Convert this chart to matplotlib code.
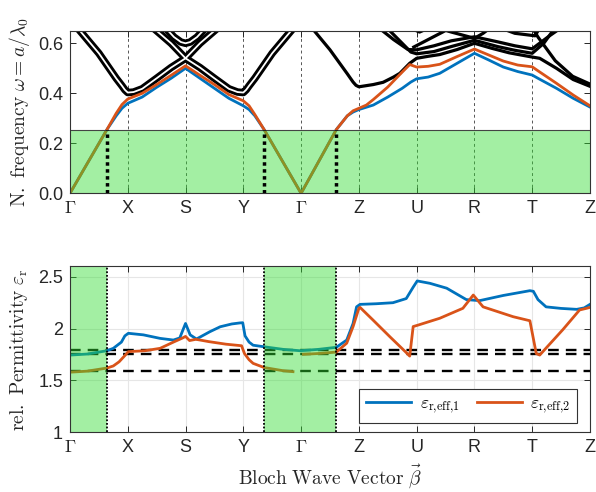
import numpy as np
import matplotlib
matplotlib.use("Agg")
import matplotlib.pyplot as plt

plt.rcParams['mathtext.fontset'] = 'cm'
plt.rcParams['font.family'] = ['Liberation Sans', 'DejaVu Sans']

# ---------------- data ----------------
tick_pos = [0, 1, 2, 3, 4, 5, 6, 7, 8, 9]
tick_labels = [r"$\Gamma$", "X", "S", "Y", r"$\Gamma$", "Z", "U", "R", "T", "Z"]

# lowest two bands (top panel)
band1_x = [0, 0.64, 0.8, 0.9, 1.0, 1.25, 1.5, 1.75, 2.0, 2.25, 2.5, 2.75, 3.0, 3.1, 3.2, 3.36, 4.0,
           4.61, 4.8, 4.9, 5.0, 5.25, 5.5, 5.75, 5.9, 6.0, 6.2, 6.4, 6.7, 7.0, 7.25, 7.5, 7.75, 8.0, 8.1,
           8.42, 8.71, 9.0]
band1_y = [0, 0.255, 0.31, 0.34, 0.36, 0.385, 0.424, 0.46, 0.50, 0.46, 0.42, 0.38, 0.35, 0.335, 0.31, 0.255, 0.0,
           0.255, 0.31, 0.325, 0.335, 0.353, 0.385, 0.42, 0.445, 0.458, 0.465, 0.48, 0.52, 0.56, 0.533, 0.505, 0.487, 0.473, 0.46,
           0.42, 0.38, 0.345]
band2_x = [0, 0.64, 0.8, 0.9, 1.0, 1.25, 1.5, 1.75, 2.0, 2.25, 2.5, 2.75, 3.0, 3.1, 3.2, 3.36, 4.0,
           4.61, 4.8, 4.9, 5.0, 5.13, 5.25, 5.5, 5.75, 5.88, 6.0, 6.2, 6.4, 6.7, 7.0, 7.25, 7.5, 7.75, 8.0, 8.1,
           8.42, 8.71, 9.0]
band2_y = [0, 0.255, 0.32, 0.355, 0.377, 0.40, 0.435, 0.472, 0.51, 0.472, 0.435, 0.395, 0.37, 0.35, 0.315, 0.255, 0.0,
           0.255, 0.31, 0.33, 0.34, 0.353, 0.375, 0.425, 0.485, 0.515, 0.505, 0.508, 0.516, 0.547, 0.577, 0.553, 0.529, 0.513, 0.506, 0.49,
           0.44, 0.393, 0.35]

# higher bands drawn as double lines (left half)
dbl_bands = [
    ([0.1, 0.5, 0.8, 0.9, 0.95, 1.0, 1.1, 1.25, 1.5, 1.75, 2.0, 2.25, 2.55, 2.62],
     [0.67, 0.56, 0.46, 0.43, 0.414, 0.403, 0.405, 0.418, 0.46, 0.503, 0.54, 0.60, 0.66, 0.675]),
    ([3.9, 3.5, 3.2, 3.1, 3.05, 3.0, 2.9, 2.75, 2.5, 2.25, 2.0, 1.75, 1.45, 1.38],
     [0.67, 0.56, 0.46, 0.43, 0.414, 0.403, 0.405, 0.418, 0.46, 0.503, 0.54, 0.60, 0.66, 0.675]),
    ([1.62, 1.8, 1.92, 2.0, 2.08, 2.2, 2.38],
     [0.67, 0.625, 0.605, 0.60, 0.605, 0.625, 0.67]),
]
# higher bands drawn as single lines (right half)
sgl_bands = [
    ([4.12, 4.5, 4.8, 4.9, 4.95, 5.0, 5.25, 5.42, 5.6, 5.71, 5.88, 6.0, 6.2, 6.4, 6.7, 7.0, 7.3, 7.6, 8.0, 8.13, 8.42, 8.71, 9.0],
     [0.68, 0.574, 0.478, 0.445, 0.432, 0.426, 0.435, 0.444, 0.465, 0.48, 0.52, 0.54, 0.548, 0.555, 0.575, 0.60, 0.58, 0.562, 0.545, 0.54, 0.50, 0.455, 0.428]),
    ([5.45, 5.75, 5.9, 6.0, 6.3, 6.6, 7.0, 7.4, 7.7, 8.0, 8.2, 8.42],
     [0.67, 0.60, 0.565, 0.558, 0.567, 0.587, 0.612, 0.587, 0.572, 0.56, 0.60, 0.67]),
    ([5.3, 5.6, 5.85, 6.0, 6.3, 6.6, 7.0, 7.4, 7.7, 8.0, 8.3, 8.55],
     [0.67, 0.615, 0.575, 0.574, 0.59, 0.61, 0.626, 0.606, 0.59, 0.578, 0.63, 0.67]),
    ([5.95, 6.2, 6.45, 6.65],
     [0.585, 0.615, 0.645, 0.67]),
    ([6.3, 6.6, 7.0, 7.15, 7.32],
     [0.665, 0.645, 0.62, 0.64, 0.67]),
    ([5.8, 6.05, 6.3],
     [0.67, 0.645, 0.67]),
    ([7.35, 7.7, 8.05, 8.15],
     [0.67, 0.64, 0.63, 0.67]),
    ([7.98, 8.1, 8.4, 8.7, 9.0],
     [0.67, 0.625, 0.53, 0.468, 0.437]),
]

f_cut = 0.255
cross_x = [0.64, 3.36, 4.61]
green_spans = [(0, 0.64), (3.36, 4.61)]

# permittivity (bottom panel)
eps1_x = [0, 0.3, 0.64, 0.75, 0.89, 0.95, 1.01, 1.27, 1.56, 1.79, 1.9, 2.0, 2.08, 2.19, 2.42, 2.6, 2.8, 2.94, 2.99,
          3.03, 3.1, 3.17, 3.36, 3.69, 3.98, 4.3, 4.61, 4.79, 4.9, 4.96, 5.02, 5.3, 5.59, 5.82, 5.94, 6.01,
          6.23, 6.52, 6.86, 7.09, 7.5, 7.96, 8.02, 8.1, 8.24, 8.5, 8.77, 8.9, 9.0]
eps1_y = [1.745, 1.755, 1.787, 1.81, 1.87, 1.93, 1.955, 1.94, 1.906, 1.89, 1.91, 2.05, 1.94, 1.90, 1.97, 2.018, 2.045, 2.055, 2.057,
          1.93, 1.87, 1.84, 1.825, 1.80, 1.787, 1.80, 1.82, 1.89, 2.05, 2.21, 2.234, 2.24, 2.25, 2.29, 2.40, 2.46,
          2.437, 2.39, 2.28, 2.27, 2.32, 2.366, 2.36, 2.28, 2.21, 2.195, 2.186, 2.2, 2.234]
eps2_x = [0, 0.3, 0.64, 0.75, 0.85, 0.95, 1.01, 1.3, 1.56, 1.79, 1.95, 2.0, 2.07, 2.18, 2.4, 2.7, 2.97, 3.02, 3.1, 3.17,
          3.36, 3.69, 3.86, np.nan,
          4.04, 4.3, 4.61, 4.79, 4.9, 5.0, 5.02, 5.25, 5.54, 5.80, 5.88, 5.94, 6.03, 6.4, 6.8, 6.98, 7.15, 7.67,
          7.96, 8.07, 8.13, 8.53, 8.82, 8.94, 9.0]
eps2_y = [1.58, 1.59, 1.62, 1.64, 1.68, 1.74, 1.778, 1.787, 1.81, 1.87, 1.91, 1.925, 1.885, 1.897, 1.875, 1.85, 1.835, 1.76, 1.70, 1.665,
          1.625, 1.594, 1.585, np.nan,
          1.752, 1.76, 1.774, 1.86, 2.02, 2.196, 2.205, 2.08, 1.92, 1.78, 1.735, 2.02, 2.035, 2.10, 2.196, 2.324, 2.21, 2.115,
          2.076, 1.76, 1.745, 1.99, 2.18, 2.196, 2.205]
eps_limits = [1.59, 1.752, 1.79]

BLUE = '#0072BD'
ORANGE = '#D95319'
GREEN = '#33dd33'
TXT = '#262626'

# ---------------- figure ----------------
fig = plt.figure(figsize=(5.96, 4.92), dpi=100)
ax1 = fig.add_axes([0.1174, 0.6071, 0.8725, 0.3303])
ax2 = fig.add_axes([0.1174, 0.1213, 0.8725, 0.3372])

# top panel
for xp in tick_pos:
    ax1.axvline(xp, color='#555555', lw=0.7, ls=(0, (3, 3)), zorder=1)
for bx, by in dbl_bands:
    ax1.plot(bx, by, color='black', lw=5.4, zorder=2, solid_capstyle='butt')
    ax1.plot(bx, by, color='white', lw=1.3, zorder=2.1)
for bx, by in sgl_bands:
    ax1.plot(bx, by, color='black', lw=2.3, zorder=2)
ax1.plot(band1_x, band1_y, color=BLUE, lw=2.0, zorder=3)
ax1.plot(band2_x, band2_y, color=ORANGE, lw=2.0, zorder=3.1)
ax1.axhspan(0, f_cut, color=GREEN, alpha=0.45, lw=0, zorder=4)
ax1.axhline(f_cut, color='#444444', lw=0.8, zorder=4.1)
for cx in cross_x:
    ax1.plot([cx, cx], [0, f_cut], color='black', lw=2.5, ls=(0, (1, 1)), zorder=5)
ax1.set_xlim(0, 9)
ax1.set_ylim(0, 0.65)
ax1.set_yticks([0, 0.2, 0.4, 0.6])
ax1.set_yticklabels(["0.0", "0.2", "0.4", "0.6"])
ax1.set_ylabel(r"$\mathrm{N.\ frequency}\ \omega = a/\lambda_0$", fontsize=14, color=TXT, labelpad=4)

# bottom panel
ax2.grid(True, color='#e6e6e6', lw=0.8, zorder=0)
ax2.set_axisbelow(True)
for lv in eps_limits:
    ax2.axhline(lv, color='black', lw=1.7, ls=(0, (4.5, 3)), zorder=2)
ax2.plot(eps1_x, eps1_y, color=BLUE, lw=2.0, zorder=3, label=r"$\varepsilon_{\mathrm{r{,}eff{,}1}}$")
ax2.plot(eps2_x, eps2_y, color=ORANGE, lw=2.0, zorder=3.1, label=r"$\varepsilon_{\mathrm{r{,}eff{,}2}}$")
for a, b in green_spans:
    ax2.axvspan(a, b, color=GREEN, alpha=0.45, lw=0, zorder=4)
for cx in cross_x:
    ax2.axvline(cx, color='black', lw=1.3, ls=(0, (1, 1)), zorder=5)
ax2.set_xlim(0, 9)
ax2.set_ylim(1, 2.6)
ax2.set_yticks([1, 1.5, 2, 2.5])
ax2.set_yticklabels(["1", "1.5", "2", "2.5"])
ax2.set_ylabel(r"$\mathrm{rel.\ Permittivity}\ \varepsilon_{\mathrm{r}}$", fontsize=14, color=TXT, labelpad=6)
ax2.set_xlabel(r"$\mathrm{Bloch\ Wave\ Vector}\ \vec{\beta}$", fontsize=14, color=TXT, labelpad=4)
leg = ax2.legend(loc='lower right', bbox_to_anchor=(0.9756, 0.058), borderaxespad=0, ncol=2,
                 fontsize=12.5, frameon=True, fancybox=False, edgecolor='#333333', framealpha=1,
                 handlelength=2.6, columnspacing=1.0, handletextpad=0.5, borderpad=0.4)
leg.get_frame().set_linewidth(0.8)
leg.set_zorder(10)

for ax in (ax1, ax2):
    ax.set_xticks(tick_pos)
    ax.set_xticklabels(tick_labels)
    ax.tick_params(direction='in', top=True, right=True, labelsize=13, colors=TXT, length=4, width=0.7, pad=5)
    for sp in ax.spines.values():
        sp.set_color('#333333')
        sp.set_linewidth(0.8)
        sp.set_zorder(6)

fig.savefig("out.png", dpi=100)
